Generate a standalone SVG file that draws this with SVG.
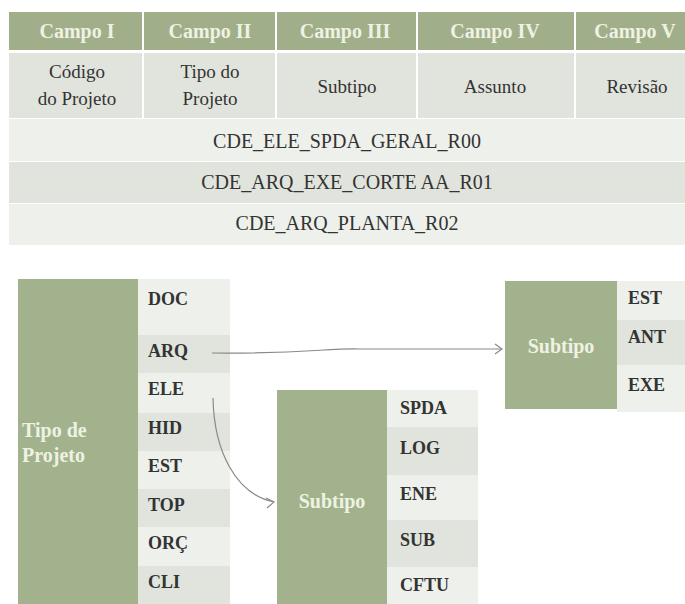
<svg xmlns="http://www.w3.org/2000/svg" width="685" height="604" viewBox="0 0 685 604" font-family="'Liberation Serif','DejaVu Serif','Times New Roman',serif">
<defs>
<style>
.hdr{fill:#a0af89}
.g{fill:#a2b28c}
.lt{fill:#eef0eb}
.dk{fill:#e1e4dd}
text{font-family:'Liberation Serif','DejaVu Serif','Times New Roman',serif}
.ht{font-size:20px;font-weight:bold;fill:#eef2e2;text-anchor:middle}
.ct{font-size:19px;fill:#333333;text-anchor:middle}
.cd{font-size:20px;fill:#333333;text-anchor:middle}
.it{font-size:18px;font-weight:bold;fill:#333333}
.gt{font-size:20px;font-weight:bold;fill:#eef2e2}
.sep{stroke:#ffffff;stroke-width:2}
.conn{fill:none;stroke:#8a8a8a;stroke-width:1.2}
</style>
</defs>
<rect width="685" height="604" fill="#ffffff"/>
<g id="table">
<rect class="hdr" x="9" y="12" width="676" height="38"/>
<rect class="dk" x="9" y="53" width="676" height="65"/>
<rect class="lt" x="9" y="119" width="676" height="42"/>
<rect class="dk" x="9" y="162" width="676" height="41"/>
<rect class="lt" x="9" y="204" width="676" height="41"/>
<line class="sep" x1="143" y1="12" x2="143" y2="118"/>
<line class="sep" x1="276" y1="12" x2="276" y2="118"/>
<line class="sep" x1="417" y1="12" x2="417" y2="118"/>
<line class="sep" x1="575" y1="12" x2="575" y2="118"/>
<text class="ht" x="77" y="38">Campo I</text>
<text class="ht" x="210" y="38">Campo II</text>
<text class="ht" x="345" y="38">Campo III</text>
<text class="ht" x="495" y="38">Campo IV</text>
<text class="ht" x="635" y="38">Campo V</text>
<text class="ct" x="77" y="78">Código</text>
<text class="ct" x="77" y="105">do Projeto</text>
<text class="ct" x="210" y="78">Tipo do</text>
<text class="ct" x="210" y="105">Projeto</text>
<text class="ct" x="347" y="93">Subtipo</text>
<text class="ct" x="495" y="93">Assunto</text>
<text class="ct" x="637" y="93">Revisão</text>
<text class="cd" x="347" y="148">CDE_ELE_SPDA_GERAL_R00</text>
<text class="cd" x="347" y="189">CDE_ARQ_EXE_CORTE AA_R01</text>
<text class="cd" x="347" y="230">CDE_ARQ_PLANTA_R02</text>
</g>
<g id="tipo-projeto">
<rect class="g" x="18" y="279" width="120" height="325"/>
<text class="gt" x="22" y="437">Tipo de</text>
<text class="gt" x="22" y="462">Projeto</text>
<rect class="lt" x="138" y="279" width="92" height="56"/>
<rect class="dk" x="138" y="335" width="92" height="38"/>
<rect class="lt" x="138" y="373" width="92" height="40"/>
<rect class="dk" x="138" y="413" width="92" height="38"/>
<rect class="lt" x="138" y="451" width="92" height="38"/>
<rect class="dk" x="138" y="489" width="92" height="38"/>
<rect class="lt" x="138" y="527" width="92" height="39"/>
<rect class="dk" x="138" y="566" width="92" height="38"/>
<text class="it" x="148" y="305">DOC</text>
<text class="it" x="148" y="357">ARQ</text>
<text class="it" x="148" y="395">ELE</text>
<text class="it" x="148" y="434">HID</text>
<text class="it" x="148" y="472">EST</text>
<text class="it" x="148" y="511">TOP</text>
<text class="it" x="148" y="549">ORÇ</text>
<text class="it" x="148" y="588">CLI</text>
</g>
<g id="subtipo-ele">
<rect class="g" x="277" y="390" width="110" height="214"/>
<text class="gt" x="332" y="508" text-anchor="middle">Subtipo</text>
<rect class="lt" x="387" y="390" width="91" height="37"/>
<rect class="dk" x="387" y="427" width="91" height="48"/>
<rect class="lt" x="387" y="475" width="91" height="45"/>
<rect class="dk" x="387" y="520" width="91" height="47"/>
<rect class="lt" x="387" y="567" width="91" height="37"/>
<text class="it" x="400" y="414">SPDA</text>
<text class="it" x="400" y="454">LOG</text>
<text class="it" x="400" y="500">ENE</text>
<text class="it" x="400" y="546">SUB</text>
<text class="it" x="400" y="591">CFTU</text>
</g>
<g id="subtipo-arq">
<rect class="g" x="505" y="281" width="112" height="128"/>
<text class="gt" x="561" y="353" text-anchor="middle">Subtipo</text>
<rect class="lt" x="617" y="281" width="68" height="39"/>
<rect class="dk" x="617" y="320" width="68" height="45"/>
<rect class="lt" x="617" y="365" width="68" height="47"/>
<text class="it" x="628" y="304">EST</text>
<text class="it" x="628" y="343">ANT</text>
<text class="it" x="628" y="391">EXE</text>
</g>
<g id="connectors">
<path class="conn" d="M212,353 C300,354 330,348 360,349 L502,349"/>
<path class="conn" d="M495,344 L502,349 L495,354"/>
<path class="conn" d="M213,398 C214,450 235,494 274,502"/>
<path class="conn" d="M266,498 L274,502 L267,508"/>
</g>
</svg>
